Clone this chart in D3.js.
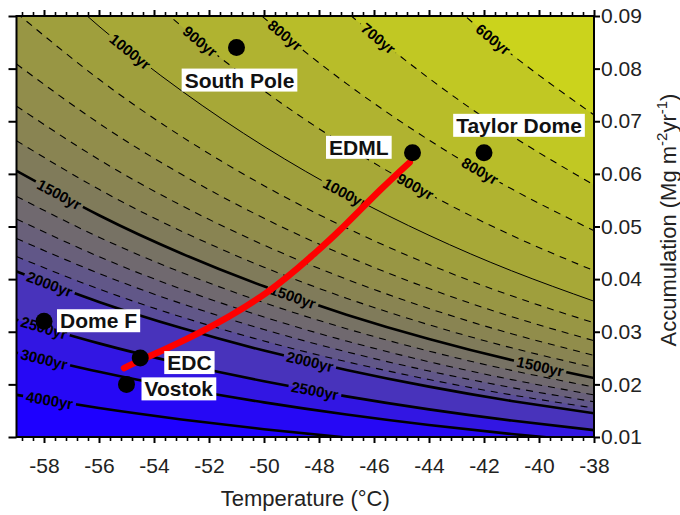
<!DOCTYPE html>
<html><head><meta charset="utf-8">
<script src="https://cdn.jsdelivr.net/npm/d3@7"></script>
<style>
body{margin:0;background:#fff}
text{font-family:"Liberation Sans",Arial,sans-serif}
</style>
</head><body>
<svg id="chart" width="680" height="515"></svg>
<script>
// ---------- data ----------
const tempSamples = [-59, -56, -53, -50, -47, -44, -41, -38];
const contourLevels = [600, 700, 800, 900, 1000, 1100, 1200, 1300, 1400, 1500, 1600, 1700, 1800, 1900, 2000, 2500, 3000, 4000];
const contourAcc = [
  [0.20347, 0.17512, 0.15073, 0.12973, 0.11166, 0.09611, 0.08272, 0.0712],
  [0.16546, 0.14241, 0.12257, 0.10550, 0.09080, 0.07816, 0.06727, 0.0579],
  [0.14060, 0.12101, 0.10416, 0.08965, 0.07716, 0.06642, 0.05716, 0.0492],
  [0.11888, 0.10232, 0.08807, 0.07580, 0.06524, 0.05616, 0.04833, 0.0416],
  [0.10231, 0.08805, 0.07579, 0.06523, 0.05615, 0.04833, 0.04159, 0.0358],
  [0.09059, 0.07797, 0.06711, 0.05776, 0.04972, 0.04279, 0.03683, 0.0317],
  [0.08087, 0.06961, 0.05991, 0.05157, 0.04438, 0.03820, 0.03288, 0.0283],
  [0.07287, 0.06272, 0.05398, 0.04646, 0.03999, 0.03442, 0.02963, 0.0255],
  [0.06630, 0.05706, 0.04911, 0.04227, 0.03638, 0.03132, 0.02695, 0.0232],
  [0.06058, 0.05214, 0.04488, 0.03863, 0.03325, 0.02862, 0.02463, 0.0212],
  [0.05573, 0.04796, 0.04128, 0.03553, 0.03058, 0.02632, 0.02266, 0.0195],
  [0.05144, 0.04427, 0.03811, 0.03280, 0.02823, 0.02430, 0.02091, 0.0180],
  [0.04772, 0.04108, 0.03535, 0.03043, 0.02619, 0.02254, 0.01940, 0.0167],
  [0.04429, 0.03812, 0.03281, 0.02824, 0.02431, 0.02092, 0.01801, 0.0155],
  [0.04144, 0.03566, 0.03070, 0.02642, 0.02274, 0.01957, 0.01685, 0.0145],
  [0.03229, 0.02779, 0.02392, 0.02059, 0.01772, 0.01525, 0.01313, 0.0113],
  [0.02601, 0.02238, 0.01926, 0.01658, 0.01427, 0.01228, 0.01057, 0.0091],
  [0.01800, 0.01550, 0.01334, 0.01148, 0.00988, 0.00850, 0.00732, 0.0063]
];
const solidLevels = [1000, 1500, 2000, 2500, 3000, 4000];
const labelLevels = [1000, 1000, 900, 900, 800, 800, 700, 600, 1500, 1500, 1500, 2000, 2000, 2500, 2500, 3000, 4000];
const labelTemps  = [-54.87, -47.05, -52.33, -44.5, -49.24, -42.15, -45.85, -41.67, -57.45, -48.95, -39.96, -57.8, -48.33, -58.0, -48.15, -58.0, -57.8];

const siteNames = ["South Pole", "EDML", "Taylor Dome", "Dome F", "EDC", "Vostok"];
const siteTemps = [-51.0, -44.6, -42.0, -58.0, -54.5, -55.0];
const siteAcc   = [0.084, 0.064, 0.064, 0.032, 0.025, 0.020];

const trackTemps = [-55.09, -54.40, -52.33, -49.89, -48.22, -47.24, -45.78, -44.70];
const trackAcc   = [0.0231, 0.0248, 0.0299, 0.0375, 0.0446, 0.0493, 0.0569, 0.0622];

const xTicks = [-58, -56, -54, -52, -50, -48, -46, -44, -42, -40, -38];
const yTicks = [0.01, 0.02, 0.03, 0.04, 0.05, 0.06, 0.07, 0.08, 0.09];

// ---------- layout / style ----------
const L = 16.5, R = 594, T = 16, B = 437;
const svg = d3.select("#chart");
const x = d3.scaleLinear([-59, -38], [L, R]);
const y = d3.scaleLinear([0.01, 0.09], [B, T]);

const color = d3.scaleLinear()
  .domain([500, 700, 1000, 1300, 1500, 1800, 2000, 2500, 3000, 4500])
  .range(["#d0d818", "#bcc226", "#a3a33a", "#8d894e", "#7b765e", "#655c80", "#5546a0", "#3a20d6", "#2a0cf0", "#1e00ff"]);

const defs = svg.append("defs");
defs.append("clipPath").attr("id", "plotclip")
  .append("rect").attr("x", L).attr("y", T).attr("width", R - L).attr("height", B - T);

const plot = svg.append("g").attr("clip-path", "url(#plotclip)");

// background fill (youngest band)
plot.append("rect").attr("x", L).attr("y", T).attr("width", R - L).attr("height", B - T)
  .attr("fill", color(550));

const rows = contourLevels.map((lev, i) => ({
  level: lev,
  pts: tempSamples.map((t, j) => [t, contourAcc[i][j]])
}));

const area = d3.area().x(d => x(d[0])).y0(B + 20).y1(d => y(d[1])).curve(d3.curveNatural);
const line = d3.line().x(d => x(d[0])).y(d => y(d[1])).curve(d3.curveNatural);

rows.forEach((r, i) => {
  const next = i < rows.length - 1 ? rows[i + 1].level : 5000;
  plot.append("path").attr("d", area(r.pts))
    .attr("fill", color((r.level + next) / 2));
});

// contour labels
function accAt(level, t) {
  const i = contourLevels.indexOf(level);
  const s = d3.scaleLinear(tempSamples, contourAcc[i].map(Math.log));
  return Math.exp(s(t));
}
const labG = svg.append("g").attr("clip-path", "url(#plotclip)");
const mask = defs.append("mask").attr("id", "labmask").attr("maskUnits", "userSpaceOnUse")
  .attr("x", 0).attr("y", 0).attr("width", 680).attr("height", 515);
mask.append("rect").attr("width", 680).attr("height", 515).attr("fill", "white");

labelLevels.forEach((lev, k) => {
  const t = labelTemps[k];
  const px = x(t), py = y(accAt(lev, t));
  const p1 = [x(t - 0.3), y(accAt(lev, t - 0.3))], p2 = [x(t + 0.3), y(accAt(lev, t + 0.3))];
  const ang = Math.atan2(p2[1] - p1[1], p2[0] - p1[0]) * 180 / Math.PI;
  const tx = labG.append("text")
    .attr("transform", `translate(${px},${py}) rotate(${ang})`)
    .attr("text-anchor", "middle").attr("dy", "0.35em")
    .attr("font-size", 15).attr("font-weight", "bold").attr("fill", "#000")
    .text(lev + "yr");
  const w = tx.node().getComputedTextLength();
  mask.append("rect").attr("x", -w / 2 - 3).attr("y", -6).attr("width", w + 6).attr("height", 12)
    .attr("transform", `translate(${px},${py}) rotate(${ang})`).attr("fill", "black");
});

const lineG = plot.append("g").attr("mask", "url(#labmask)");
rows.forEach(r => {
  const solid = solidLevels.includes(r.level);
  lineG.append("path").attr("d", line(r.pts)).attr("fill", "none").attr("stroke", "#000")
    .attr("stroke-width", solid ? (r.level === 1000 ? 1 : 2.6) : 1.1)
    .attr("stroke-dasharray", solid ? null : "7,6");
});
labG.raise();

// red track
const trackLine = d3.line().x(d => x(d[0])).y(d => y(d[1])).curve(d3.curveNatural);
svg.append("path").attr("d", trackLine(trackTemps.map((t, i) => [t, trackAcc[i]])))
  .attr("fill", "none").attr("stroke", "#ff0000").attr("stroke-width", 6.5).attr("stroke-linecap", "round");

// sites
const siteStyle = [
  {dx: 3, dy: 40, anchor: "middle"},
  {dx: -24, dy: 2, anchor: "end"},
  {dx: 35, dy: -20, anchor: "middle"},
  {dx: 16, dy: 7, anchor: "start"},
  {dx: 27, dy: 12, anchor: "start"},
  {dx: 18, dy: 12, anchor: "start"}
];
svg.append("g").selectAll("circle").data(siteNames).join("circle")
  .attr("cx", (d, i) => x(siteTemps[i])).attr("cy", (d, i) => y(siteAcc[i]))
  .attr("r", 8.5).attr("fill", "#000");
const siteLab = svg.append("g");
siteNames.forEach((n, i) => {
  const g = siteLab.append("g");
  const t = g.append("text")
    .attr("x", x(siteTemps[i]) + siteStyle[i].dx).attr("y", y(siteAcc[i]) + siteStyle[i].dy)
    .attr("text-anchor", siteStyle[i].anchor)
    .attr("font-size", 21).attr("font-weight", "bold").attr("fill", "#111").text(n);
  const bb = t.node().getBBox();
  g.insert("rect", "text").attr("x", bb.x - 3).attr("y", bb.y).attr("width", bb.width + 6).attr("height", bb.height)
    .attr("fill", "#fff");
});

// frame
svg.append("rect").attr("x", L).attr("y", T).attr("width", R - L).attr("height", B - T)
  .attr("fill", "none").attr("stroke", "#000").attr("stroke-width", 2);

// axes
const minorX = d3.range(-58.8, -38.01, 0.4).filter(v => Math.abs(v / 2 - Math.round(v / 2)) > 0.01);
function styleAxis(g, w) {
  g.select(".domain").remove();
  g.selectAll(".tick line").attr("stroke", "#000").attr("stroke-width", w);
  g.selectAll(".tick text").attr("fill", "#222").attr("font-size", 21)
    .attr("font-family", '"Liberation Sans",Arial,sans-serif');
}
svg.append("g").attr("transform", `translate(0,${B})`)
  .call(d3.axisBottom(x).tickValues(minorX).tickSize(4).tickFormat("")).call(g => styleAxis(g, 1.6));
svg.append("g").attr("transform", `translate(0,${B})`)
  .call(d3.axisBottom(x).tickValues(xTicks).tickSize(6).tickPadding(15).tickFormat(d => String(d)))
  .call(g => styleAxis(g, 2));
svg.append("g").attr("transform", `translate(0,${T})`)
  .call(d3.axisTop(x).tickValues(minorX).tickSize(4).tickFormat("")).call(g => styleAxis(g, 1.6));
svg.append("g").attr("transform", `translate(0,${T})`)
  .call(d3.axisTop(x).tickValues(xTicks).tickSize(6).tickFormat("")).call(g => styleAxis(g, 2));
svg.append("g").attr("transform", `translate(${L},0)`)
  .call(d3.axisLeft(y).tickValues(yTicks).tickSize(8).tickFormat("")).call(g => styleAxis(g, 2));
svg.append("g").attr("transform", `translate(${R},0)`)
  .call(d3.axisRight(y).tickValues(yTicks).tickSize(6).tickPadding(1).tickFormat(d3.format(".2f")))
  .call(g => styleAxis(g, 2));

// titles
svg.append("text").attr("x", (L + R) / 2).attr("y", 506).attr("text-anchor", "middle")
  .attr("font-size", 22).attr("fill", "#222").text("Temperature (°C)");
const yt = svg.append("text").attr("transform", "translate(676,220) rotate(-90)")
  .attr("text-anchor", "middle").attr("font-size", 22).attr("fill", "#222");
yt.append("tspan").text("Accumulation (Mg m");
yt.append("tspan").attr("font-size", 15).attr("dy", -9).text("-2");
yt.append("tspan").attr("dy", 9).text("yr");
yt.append("tspan").attr("font-size", 15).attr("dy", -9).text("-1");
yt.append("tspan").attr("dy", 9).text(")");
</script>
</body></html>
